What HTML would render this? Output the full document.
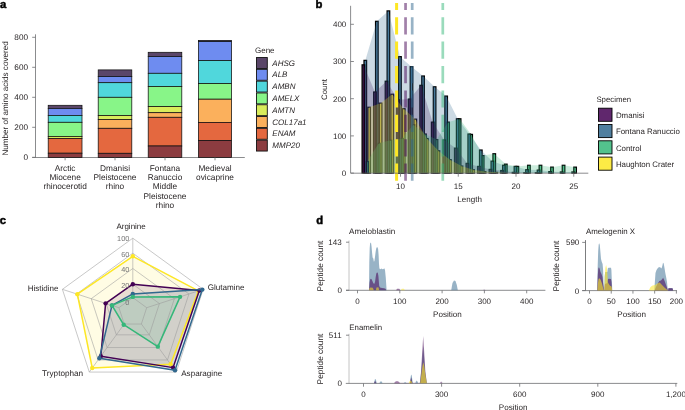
<!DOCTYPE html><html><head><meta charset="utf-8"><style>html,body{margin:0;padding:0;background:#fff;}svg{display:block;will-change:transform} text{font-family:"Liberation Sans", sans-serif;text-rendering:geometricPrecision;}</style></head><body>
<svg width="685" height="410" viewBox="0 0 685 410">
<text x="0.1" y="7.8" font-size="11.3" font-weight="bold" fill="#000" stroke="#000" stroke-width="0.45">a</text>
<text x="315.4" y="7.7" font-size="11.3" font-weight="bold" fill="#000" stroke="#000" stroke-width="0.45">b</text>
<text x="-0.3" y="223.7" font-size="11.3" font-weight="bold" fill="#000" stroke="#000" stroke-width="0.45">c</text>
<text x="316.3" y="224.4" font-size="11.3" font-weight="bold" fill="#000" stroke="#000" stroke-width="0.45">d</text>
<line x1="35.5" y1="34.3" x2="35.5" y2="157.6" stroke="#6d6e71" stroke-width="0.8"/>
<line x1="32.2" y1="157.3" x2="35.5" y2="157.3" stroke="#6d6e71" stroke-width="0.8"/>
<text x="28" y="160.20000000000002" font-size="8.2" fill="#231f20" text-anchor="end">0</text>
<line x1="32.2" y1="127.30000000000001" x2="35.5" y2="127.30000000000001" stroke="#6d6e71" stroke-width="0.8"/>
<text x="28" y="130.20000000000002" font-size="8.2" fill="#231f20" text-anchor="end">200</text>
<line x1="32.2" y1="97.30000000000001" x2="35.5" y2="97.30000000000001" stroke="#6d6e71" stroke-width="0.8"/>
<text x="28" y="100.20000000000002" font-size="8.2" fill="#231f20" text-anchor="end">400</text>
<line x1="32.2" y1="67.30000000000001" x2="35.5" y2="67.30000000000001" stroke="#6d6e71" stroke-width="0.8"/>
<text x="28" y="70.20000000000002" font-size="8.2" fill="#231f20" text-anchor="end">600</text>
<line x1="32.2" y1="37.30000000000001" x2="35.5" y2="37.30000000000001" stroke="#6d6e71" stroke-width="0.8"/>
<text x="28" y="40.20000000000001" font-size="8.2" fill="#231f20" text-anchor="end">800</text>
<line x1="32.2" y1="157.5" x2="244.8" y2="157.5" stroke="#6d6e71" stroke-width="0.8"/>
<text transform="translate(7.5,155.6) rotate(-90)" font-size="8.1" fill="#231f20">Number of amino acids covered</text>
<rect x="48.2" y="105.3" width="33.80" height="3.10" fill="#5a4669" stroke="#111" stroke-width="0.75"/>
<rect x="48.2" y="108.4" width="33.80" height="7.00" fill="#6e8cf0" stroke="#111" stroke-width="0.75"/>
<rect x="48.2" y="115.4" width="33.80" height="6.90" fill="#50d7dc" stroke="#111" stroke-width="0.75"/>
<rect x="48.2" y="122.3" width="33.80" height="14.10" fill="#88f588" stroke="#111" stroke-width="0.75"/>
<rect x="48.2" y="136.4" width="33.80" height="2.00" fill="#d9ec5b" stroke="#111" stroke-width="0.75"/>
<rect x="48.2" y="138.4" width="33.80" height="14.80" fill="#e4683f" stroke="#111" stroke-width="0.75"/>
<rect x="48.2" y="153.2" width="33.80" height="4.20" fill="#8c3c40" stroke="#111" stroke-width="0.75"/>
<rect x="98.2" y="69.9" width="33.60" height="6.70" fill="#5a4669" stroke="#111" stroke-width="0.75"/>
<rect x="98.2" y="76.6" width="33.60" height="6.10" fill="#6e8cf0" stroke="#111" stroke-width="0.75"/>
<rect x="98.2" y="82.7" width="33.60" height="14.60" fill="#50d7dc" stroke="#111" stroke-width="0.75"/>
<rect x="98.2" y="97.3" width="33.60" height="18.20" fill="#88f588" stroke="#111" stroke-width="0.75"/>
<rect x="98.2" y="115.5" width="33.60" height="4.00" fill="#d9ec5b" stroke="#111" stroke-width="0.75"/>
<rect x="98.2" y="119.5" width="33.60" height="8.80" fill="#fbb05c" stroke="#111" stroke-width="0.75"/>
<rect x="98.2" y="128.3" width="33.60" height="25.00" fill="#e4683f" stroke="#111" stroke-width="0.75"/>
<rect x="98.2" y="153.3" width="33.60" height="4.10" fill="#8c3c40" stroke="#111" stroke-width="0.75"/>
<rect x="148.2" y="52.3" width="33.60" height="4.30" fill="#5a4669" stroke="#111" stroke-width="0.75"/>
<rect x="148.2" y="56.6" width="33.60" height="16.70" fill="#6e8cf0" stroke="#111" stroke-width="0.75"/>
<rect x="148.2" y="73.3" width="33.60" height="13.20" fill="#50d7dc" stroke="#111" stroke-width="0.75"/>
<rect x="148.2" y="86.5" width="33.60" height="20.10" fill="#88f588" stroke="#111" stroke-width="0.75"/>
<rect x="148.2" y="106.6" width="33.60" height="6.10" fill="#d9ec5b" stroke="#111" stroke-width="0.75"/>
<rect x="148.2" y="112.7" width="33.60" height="4.60" fill="#fbb05c" stroke="#111" stroke-width="0.75"/>
<rect x="148.2" y="117.3" width="33.60" height="28.70" fill="#e4683f" stroke="#111" stroke-width="0.75"/>
<rect x="148.2" y="146" width="33.60" height="11.40" fill="#8c3c40" stroke="#111" stroke-width="0.75"/>
<rect x="198.4" y="40.4" width="33.20" height="1.20" fill="#5a4669" stroke="#111" stroke-width="0.75"/>
<rect x="198.4" y="41.6" width="33.20" height="19.00" fill="#6e8cf0" stroke="#111" stroke-width="0.75"/>
<rect x="198.4" y="60.6" width="33.20" height="23.00" fill="#50d7dc" stroke="#111" stroke-width="0.75"/>
<rect x="198.4" y="83.6" width="33.20" height="15.60" fill="#88f588" stroke="#111" stroke-width="0.75"/>
<rect x="198.4" y="99.2" width="33.20" height="23.20" fill="#fbb05c" stroke="#111" stroke-width="0.75"/>
<rect x="198.4" y="122.4" width="33.20" height="18.10" fill="#e4683f" stroke="#111" stroke-width="0.75"/>
<rect x="198.4" y="140.5" width="33.20" height="16.90" fill="#8c3c40" stroke="#111" stroke-width="0.75"/>
<line x1="65.1" y1="157.5" x2="65.1" y2="160.3" stroke="#6d6e71" stroke-width="0.8"/>
<line x1="115" y1="157.5" x2="115" y2="160.3" stroke="#6d6e71" stroke-width="0.8"/>
<line x1="165" y1="157.5" x2="165" y2="160.3" stroke="#6d6e71" stroke-width="0.8"/>
<line x1="215" y1="157.5" x2="215" y2="160.3" stroke="#6d6e71" stroke-width="0.8"/>
<text x="65.1" y="170.60" font-size="8.3" fill="#231f20" text-anchor="middle">Arctic</text>
<text x="65.1" y="179.95" font-size="8.3" fill="#231f20" text-anchor="middle">Miocene</text>
<text x="65.1" y="189.30" font-size="8.3" fill="#231f20" text-anchor="middle">rhinocerotid</text>
<text x="115" y="170.60" font-size="8.3" fill="#231f20" text-anchor="middle">Dmanisi</text>
<text x="115" y="179.95" font-size="8.3" fill="#231f20" text-anchor="middle">Pleistocene</text>
<text x="115" y="189.30" font-size="8.3" fill="#231f20" text-anchor="middle">rhino</text>
<text x="165" y="170.60" font-size="8.3" fill="#231f20" text-anchor="middle">Fontana</text>
<text x="165" y="179.95" font-size="8.3" fill="#231f20" text-anchor="middle">Ranuccio</text>
<text x="165" y="189.30" font-size="8.3" fill="#231f20" text-anchor="middle">Middle</text>
<text x="165" y="198.65" font-size="8.3" fill="#231f20" text-anchor="middle">Pleistocene</text>
<text x="165" y="208.00" font-size="8.3" fill="#231f20" text-anchor="middle">rhino</text>
<text x="215" y="170.60" font-size="8.3" fill="#231f20" text-anchor="middle">Medieval</text>
<text x="215" y="179.95" font-size="8.3" fill="#231f20" text-anchor="middle">ovicaprine</text>
<text x="255" y="52.9" font-size="8" fill="#231f20">Gene</text>
<rect x="256.45" y="57.55" width="10.85" height="10.9" fill="#5a4669" stroke="#111" stroke-width="0.9"/>
<text x="272.3" y="65.50" font-size="8" font-style="italic" fill="#231f20">AHSG</text>
<rect x="256.45" y="69.35" width="10.85" height="10.9" fill="#6e8cf0" stroke="#111" stroke-width="0.9"/>
<text x="272.3" y="77.30" font-size="8" font-style="italic" fill="#231f20">ALB</text>
<rect x="256.45" y="81.15" width="10.85" height="10.9" fill="#50d7dc" stroke="#111" stroke-width="0.9"/>
<text x="272.3" y="89.10" font-size="8" font-style="italic" fill="#231f20">AMBN</text>
<rect x="256.45" y="92.95" width="10.85" height="10.9" fill="#88f588" stroke="#111" stroke-width="0.9"/>
<text x="272.3" y="100.90" font-size="8" font-style="italic" fill="#231f20">AMELX</text>
<rect x="256.45" y="104.75" width="10.85" height="10.9" fill="#d9ec5b" stroke="#111" stroke-width="0.9"/>
<text x="272.3" y="112.70" font-size="8" font-style="italic" fill="#231f20">AMTN</text>
<rect x="256.45" y="116.55" width="10.85" height="10.9" fill="#fbb05c" stroke="#111" stroke-width="0.9"/>
<text x="272.3" y="124.50" font-size="8" font-style="italic" fill="#231f20">COL17a1</text>
<rect x="256.45" y="128.35" width="10.85" height="10.9" fill="#e4683f" stroke="#111" stroke-width="0.9"/>
<text x="272.3" y="136.30" font-size="8" font-style="italic" fill="#231f20">ENAM</text>
<rect x="256.45" y="140.15" width="10.85" height="10.9" fill="#8c3c40" stroke="#111" stroke-width="0.9"/>
<text x="272.3" y="148.10" font-size="8" font-style="italic" fill="#231f20">MMP20</text>
<rect x="367.80" y="107.26" width="2.6" height="65.84" fill="#FDE725" fill-opacity="0.85" stroke="#000" stroke-width="1.25"/>
<rect x="379.35" y="103.16" width="2.6" height="69.94" fill="#FDE725" fill-opacity="0.85" stroke="#000" stroke-width="1.25"/>
<rect x="390.90" y="94.24" width="2.6" height="78.86" fill="#FDE725" fill-opacity="0.85" stroke="#000" stroke-width="1.25"/>
<rect x="402.45" y="108.74" width="2.6" height="64.36" fill="#FDE725" fill-opacity="0.85" stroke="#000" stroke-width="1.25"/>
<rect x="414.00" y="119.16" width="2.6" height="53.94" fill="#FDE725" fill-opacity="0.85" stroke="#000" stroke-width="1.25"/>
<rect x="425.55" y="138.50" width="2.6" height="34.60" fill="#FDE725" fill-opacity="0.85" stroke="#000" stroke-width="1.25"/>
<rect x="437.10" y="150.78" width="2.6" height="22.32" fill="#FDE725" fill-opacity="0.85" stroke="#000" stroke-width="1.25"/>
<rect x="448.65" y="159.71" width="2.6" height="13.39" fill="#FDE725" fill-opacity="0.85" stroke="#000" stroke-width="1.25"/>
<rect x="460.20" y="166.03" width="2.6" height="7.07" fill="#FDE725" fill-opacity="0.85" stroke="#000" stroke-width="1.25"/>
<rect x="471.75" y="169.75" width="2.6" height="3.35" fill="#FDE725" fill-opacity="0.85" stroke="#000" stroke-width="1.25"/>
<rect x="483.30" y="171.61" width="2.6" height="1.49" fill="#FDE725" fill-opacity="0.85" stroke="#000" stroke-width="1.25"/>
<rect x="494.85" y="172.36" width="2.6" height="0.74" fill="#FDE725" fill-opacity="0.85" stroke="#000" stroke-width="1.25"/>
<rect x="506.40" y="173.10" width="2.6" height="0.00" fill="#FDE725" fill-opacity="0.85" stroke="#000" stroke-width="1.25"/>
<rect x="517.95" y="173.10" width="2.6" height="0.00" fill="#FDE725" fill-opacity="0.85" stroke="#000" stroke-width="1.25"/>
<rect x="529.50" y="173.10" width="2.6" height="0.00" fill="#FDE725" fill-opacity="0.85" stroke="#000" stroke-width="1.25"/>
<rect x="541.05" y="173.10" width="2.6" height="0.00" fill="#FDE725" fill-opacity="0.85" stroke="#000" stroke-width="1.25"/>
<rect x="552.60" y="173.10" width="2.6" height="0.00" fill="#FDE725" fill-opacity="0.85" stroke="#000" stroke-width="1.25"/>
<rect x="564.15" y="173.10" width="2.6" height="0.00" fill="#FDE725" fill-opacity="0.85" stroke="#000" stroke-width="1.25"/>
<rect x="575.70" y="173.10" width="2.6" height="0.00" fill="#FDE725" fill-opacity="0.85" stroke="#000" stroke-width="1.25"/>
<rect x="365.90" y="161.57" width="2.6" height="11.53" fill="#35B779" fill-opacity="0.85" stroke="#000" stroke-width="1.25"/>
<rect x="377.45" y="143.34" width="2.6" height="29.76" fill="#35B779" fill-opacity="0.85" stroke="#000" stroke-width="1.25"/>
<rect x="389.00" y="140.36" width="2.6" height="32.74" fill="#35B779" fill-opacity="0.85" stroke="#000" stroke-width="1.25"/>
<rect x="400.55" y="138.50" width="2.6" height="34.60" fill="#35B779" fill-opacity="0.85" stroke="#000" stroke-width="1.25"/>
<rect x="412.10" y="124.74" width="2.6" height="48.36" fill="#35B779" fill-opacity="0.85" stroke="#000" stroke-width="1.25"/>
<rect x="423.65" y="134.04" width="2.6" height="39.06" fill="#35B779" fill-opacity="0.85" stroke="#000" stroke-width="1.25"/>
<rect x="435.20" y="139.62" width="2.6" height="33.48" fill="#35B779" fill-opacity="0.85" stroke="#000" stroke-width="1.25"/>
<rect x="446.75" y="122.14" width="2.6" height="50.96" fill="#35B779" fill-opacity="0.85" stroke="#000" stroke-width="1.25"/>
<rect x="458.30" y="118.79" width="2.6" height="54.31" fill="#35B779" fill-opacity="0.85" stroke="#000" stroke-width="1.25"/>
<rect x="469.85" y="134.41" width="2.6" height="38.69" fill="#35B779" fill-opacity="0.85" stroke="#000" stroke-width="1.25"/>
<rect x="481.40" y="155.62" width="2.6" height="17.48" fill="#35B779" fill-opacity="0.85" stroke="#000" stroke-width="1.25"/>
<rect x="492.95" y="153.76" width="2.6" height="19.34" fill="#35B779" fill-opacity="0.85" stroke="#000" stroke-width="1.25"/>
<rect x="504.50" y="164.17" width="2.6" height="8.93" fill="#35B779" fill-opacity="0.85" stroke="#000" stroke-width="1.25"/>
<rect x="516.05" y="166.40" width="2.6" height="6.70" fill="#35B779" fill-opacity="0.85" stroke="#000" stroke-width="1.25"/>
<rect x="527.60" y="165.29" width="2.6" height="7.81" fill="#35B779" fill-opacity="0.85" stroke="#000" stroke-width="1.25"/>
<rect x="539.15" y="165.29" width="2.6" height="7.81" fill="#35B779" fill-opacity="0.85" stroke="#000" stroke-width="1.25"/>
<rect x="550.70" y="167.15" width="2.6" height="5.95" fill="#35B779" fill-opacity="0.85" stroke="#000" stroke-width="1.25"/>
<rect x="562.25" y="165.29" width="2.6" height="7.81" fill="#35B779" fill-opacity="0.85" stroke="#000" stroke-width="1.25"/>
<rect x="573.80" y="167.15" width="2.6" height="5.95" fill="#35B779" fill-opacity="0.85" stroke="#000" stroke-width="1.25"/>
<rect x="364.00" y="60.38" width="2.6" height="112.72" fill="#31688E" fill-opacity="0.85" stroke="#000" stroke-width="1.25"/>
<rect x="375.55" y="21.32" width="2.6" height="151.78" fill="#31688E" fill-opacity="0.85" stroke="#000" stroke-width="1.25"/>
<rect x="387.10" y="10.91" width="2.6" height="162.19" fill="#31688E" fill-opacity="0.85" stroke="#000" stroke-width="1.25"/>
<rect x="398.65" y="56.66" width="2.6" height="116.44" fill="#31688E" fill-opacity="0.85" stroke="#000" stroke-width="1.25"/>
<rect x="410.20" y="66.71" width="2.6" height="106.39" fill="#31688E" fill-opacity="0.85" stroke="#000" stroke-width="1.25"/>
<rect x="421.75" y="76.01" width="2.6" height="97.09" fill="#31688E" fill-opacity="0.85" stroke="#000" stroke-width="1.25"/>
<rect x="433.30" y="86.80" width="2.6" height="86.30" fill="#31688E" fill-opacity="0.85" stroke="#000" stroke-width="1.25"/>
<rect x="444.85" y="96.10" width="2.6" height="77.00" fill="#31688E" fill-opacity="0.85" stroke="#000" stroke-width="1.25"/>
<rect x="456.40" y="118.79" width="2.6" height="54.31" fill="#31688E" fill-opacity="0.85" stroke="#000" stroke-width="1.25"/>
<rect x="467.95" y="134.04" width="2.6" height="39.06" fill="#31688E" fill-opacity="0.85" stroke="#000" stroke-width="1.25"/>
<rect x="479.50" y="150.04" width="2.6" height="23.06" fill="#31688E" fill-opacity="0.85" stroke="#000" stroke-width="1.25"/>
<rect x="491.05" y="161.20" width="2.6" height="11.90" fill="#31688E" fill-opacity="0.85" stroke="#000" stroke-width="1.25"/>
<rect x="502.60" y="165.29" width="2.6" height="7.81" fill="#31688E" fill-opacity="0.85" stroke="#000" stroke-width="1.25"/>
<rect x="514.15" y="166.40" width="2.6" height="6.70" fill="#31688E" fill-opacity="0.85" stroke="#000" stroke-width="1.25"/>
<rect x="525.70" y="169.75" width="2.6" height="3.35" fill="#31688E" fill-opacity="0.85" stroke="#000" stroke-width="1.25"/>
<rect x="537.25" y="170.12" width="2.6" height="2.98" fill="#31688E" fill-opacity="0.85" stroke="#000" stroke-width="1.25"/>
<rect x="548.80" y="171.61" width="2.6" height="1.49" fill="#31688E" fill-opacity="0.85" stroke="#000" stroke-width="1.25"/>
<rect x="560.35" y="171.98" width="2.6" height="1.12" fill="#31688E" fill-opacity="0.85" stroke="#000" stroke-width="1.25"/>
<rect x="571.90" y="171.98" width="2.6" height="1.12" fill="#31688E" fill-opacity="0.85" stroke="#000" stroke-width="1.25"/>
<rect x="362.10" y="64.85" width="2.6" height="108.25" fill="#2a0334" fill-opacity="0.85" stroke="#000" stroke-width="1.25"/>
<rect x="373.65" y="92.00" width="2.6" height="81.10" fill="#2a0334" fill-opacity="0.85" stroke="#000" stroke-width="1.25"/>
<rect x="385.20" y="81.22" width="2.6" height="91.88" fill="#2a0334" fill-opacity="0.85" stroke="#000" stroke-width="1.25"/>
<rect x="396.75" y="99.82" width="2.6" height="73.28" fill="#2a0334" fill-opacity="0.85" stroke="#000" stroke-width="1.25"/>
<rect x="408.30" y="99.07" width="2.6" height="74.03" fill="#2a0334" fill-opacity="0.85" stroke="#000" stroke-width="1.25"/>
<rect x="419.85" y="85.31" width="2.6" height="87.79" fill="#2a0334" fill-opacity="0.85" stroke="#000" stroke-width="1.25"/>
<rect x="431.40" y="122.14" width="2.6" height="50.96" fill="#2a0334" fill-opacity="0.85" stroke="#000" stroke-width="1.25"/>
<rect x="442.95" y="139.99" width="2.6" height="33.11" fill="#2a0334" fill-opacity="0.85" stroke="#000" stroke-width="1.25"/>
<rect x="454.50" y="148.18" width="2.6" height="24.92" fill="#2a0334" fill-opacity="0.85" stroke="#000" stroke-width="1.25"/>
<rect x="466.05" y="163.43" width="2.6" height="9.67" fill="#2a0334" fill-opacity="0.85" stroke="#000" stroke-width="1.25"/>
<rect x="477.60" y="166.40" width="2.6" height="6.70" fill="#2a0334" fill-opacity="0.85" stroke="#000" stroke-width="1.25"/>
<rect x="489.15" y="169.38" width="2.6" height="3.72" fill="#2a0334" fill-opacity="0.85" stroke="#000" stroke-width="1.25"/>
<rect x="500.70" y="170.50" width="2.6" height="2.60" fill="#2a0334" fill-opacity="0.85" stroke="#000" stroke-width="1.25"/>
<rect x="512.25" y="172.36" width="2.6" height="0.74" fill="#2a0334" fill-opacity="0.85" stroke="#000" stroke-width="1.25"/>
<rect x="523.80" y="172.73" width="2.6" height="0.37" fill="#2a0334" fill-opacity="0.85" stroke="#000" stroke-width="1.25"/>
<rect x="535.35" y="172.73" width="2.6" height="0.37" fill="#2a0334" fill-opacity="0.85" stroke="#000" stroke-width="1.25"/>
<rect x="546.90" y="173.10" width="2.6" height="0.00" fill="#2a0334" fill-opacity="0.85" stroke="#000" stroke-width="1.25"/>
<rect x="558.45" y="173.10" width="2.6" height="0.00" fill="#2a0334" fill-opacity="0.85" stroke="#000" stroke-width="1.25"/>
<rect x="570.00" y="173.10" width="2.6" height="0.00" fill="#2a0334" fill-opacity="0.85" stroke="#000" stroke-width="1.25"/>
<polygon points="363.40,173.1 363.40,64.85 374.95,92.00 386.50,81.22 398.05,99.82 409.60,99.07 421.15,85.31 432.70,122.14 444.25,139.99 455.80,148.18 467.35,163.43 478.90,166.40 490.45,169.38 502.00,170.50 513.55,172.36 525.10,172.73 536.65,172.73 548.20,173.10 559.75,173.10 571.30,173.10 571.30,173.1" fill="#440154" fill-opacity="0.25" stroke="none"/>
<polygon points="365.30,173.1 365.30,60.38 376.85,21.32 388.40,10.91 399.95,56.66 411.50,66.71 423.05,76.01 434.60,86.80 446.15,96.10 457.70,118.79 469.25,134.04 480.80,150.04 492.35,161.20 503.90,165.29 515.45,166.40 527.00,169.75 538.55,170.12 550.10,171.61 561.65,171.98 573.20,171.98 573.20,173.1" fill="#31688E" fill-opacity="0.25" stroke="none"/>
<polygon points="367.20,173.1 367.20,161.57 378.75,143.34 390.30,140.36 401.85,138.50 413.40,124.74 424.95,134.04 436.50,139.62 448.05,122.14 459.60,118.79 471.15,134.41 482.70,155.62 494.25,153.76 505.80,164.17 517.35,166.40 528.90,165.29 540.45,165.29 552.00,167.15 563.55,165.29 575.10,167.15 575.10,173.1" fill="#35B779" fill-opacity="0.25" stroke="none"/>
<polygon points="369.10,173.1 369.10,107.26 380.65,103.16 392.20,94.24 403.75,108.74 415.30,119.16 426.85,138.50 438.40,150.78 449.95,159.71 461.50,166.03 473.05,169.75 484.60,171.61 496.15,172.36 507.70,173.10 519.25,173.10 530.80,173.10 542.35,173.10 553.90,173.10 565.45,173.10 577.00,173.10 577.00,173.1" fill="#FDE725" fill-opacity="0.25" stroke="none"/>
<line x1="396.6" y1="180.8" x2="396.6" y2="2.9" stroke="#FDE725" stroke-opacity="1" stroke-width="3.0" stroke-dasharray="17.2 7.2"/>
<line x1="405.55" y1="180.8" x2="405.55" y2="2.9" stroke="#440154" stroke-opacity="0.5" stroke-width="2.7" stroke-dasharray="17.2 7.2"/>
<line x1="412.2" y1="180.8" x2="412.2" y2="2.9" stroke="#31688E" stroke-opacity="0.5" stroke-width="2.7" stroke-dasharray="17.2 7.2"/>
<line x1="442.8" y1="180.8" x2="442.8" y2="2.9" stroke="#35B779" stroke-opacity="0.5" stroke-width="2.7" stroke-dasharray="17.2 7.2"/>
<line x1="350.6" y1="5.8" x2="350.6" y2="173.1" stroke="#6d6e71" stroke-width="0.8"/>
<line x1="350.6" y1="173.10" x2="353.9" y2="173.10" stroke="#6d6e71" stroke-width="0.8"/>
<text x="346.3" y="176.00" font-size="8.0" fill="#231f20" text-anchor="end">0</text>
<line x1="350.6" y1="135.90" x2="353.9" y2="135.90" stroke="#6d6e71" stroke-width="0.8"/>
<text x="346.3" y="138.80" font-size="8.0" fill="#231f20" text-anchor="end">100</text>
<line x1="350.6" y1="98.70" x2="353.9" y2="98.70" stroke="#6d6e71" stroke-width="0.8"/>
<text x="346.3" y="101.60" font-size="8.0" fill="#231f20" text-anchor="end">200</text>
<line x1="350.6" y1="61.50" x2="353.9" y2="61.50" stroke="#6d6e71" stroke-width="0.8"/>
<text x="346.3" y="64.40" font-size="8.0" fill="#231f20" text-anchor="end">300</text>
<line x1="350.6" y1="24.30" x2="353.9" y2="24.30" stroke="#6d6e71" stroke-width="0.8"/>
<text x="346.3" y="27.20" font-size="8.0" fill="#231f20" text-anchor="end">400</text>
<line x1="350.6" y1="173.2" x2="588.3" y2="173.2" stroke="#6d6e71" stroke-width="0.8"/>
<line x1="400.50" y1="173.2" x2="400.50" y2="176.7" stroke="#6d6e71" stroke-width="0.8"/>
<text x="400.50" y="188.9" font-size="8.0" fill="#231f20" text-anchor="middle">10</text>
<line x1="458.25" y1="173.2" x2="458.25" y2="176.7" stroke="#6d6e71" stroke-width="0.8"/>
<text x="458.25" y="188.9" font-size="8.0" fill="#231f20" text-anchor="middle">15</text>
<line x1="516.00" y1="173.2" x2="516.00" y2="176.7" stroke="#6d6e71" stroke-width="0.8"/>
<text x="516.00" y="188.9" font-size="8.0" fill="#231f20" text-anchor="middle">20</text>
<line x1="573.75" y1="173.2" x2="573.75" y2="176.7" stroke="#6d6e71" stroke-width="0.8"/>
<text x="573.75" y="188.9" font-size="8.0" fill="#231f20" text-anchor="middle">25</text>
<text x="469.6" y="201.7" font-size="8.0" fill="#231f20" text-anchor="middle">Length</text>
<text transform="translate(326.6,89.5) rotate(-90)" font-size="7.9" fill="#231f20" text-anchor="middle">Count</text>
<text x="596.4" y="102.1" font-size="7.8" fill="#231f20">Specimen</text>
<rect x="598.5" y="108.20" width="13.5" height="13.1" fill="#440154" fill-opacity="0.85" stroke="#000" stroke-width="0.9"/>
<text x="615.9" y="118.10" font-size="7.9" fill="#231f20">Dmanisi</text>
<rect x="598.5" y="124.50" width="13.5" height="13.1" fill="#31688E" fill-opacity="0.85" stroke="#000" stroke-width="0.9"/>
<text x="615.9" y="134.40" font-size="7.9" fill="#231f20">Fontana Ranuccio</text>
<rect x="598.5" y="140.80" width="13.5" height="13.1" fill="#35B779" fill-opacity="0.85" stroke="#000" stroke-width="0.9"/>
<text x="615.9" y="150.70" font-size="7.9" fill="#231f20">Control</text>
<rect x="598.5" y="157.10" width="13.5" height="13.1" fill="#FDE725" fill-opacity="0.85" stroke="#000" stroke-width="0.9"/>
<text x="615.9" y="167.00" font-size="7.9" fill="#231f20">Haughton Crater</text>
<polygon points="132.80,256.30 198.42,290.88 170.65,364.30 92.24,368.02 77.35,294.18" fill="#FDE725" fill-opacity="0.12" stroke="none"/>
<polygon points="132.80,284.20 199.37,290.57 173.06,367.62 100.82,356.21 105.60,303.36" fill="#440154" fill-opacity="0.12" stroke="none"/>
<polygon points="132.80,293.90 202.32,289.61 175.00,370.29 99.36,358.23 111.97,305.43" fill="#31688E" fill-opacity="0.12" stroke="none"/>
<polygon points="132.80,296.90 180.07,296.84 157.84,346.66 123.69,324.74 111.97,305.43" fill="#35B779" fill-opacity="0.12" stroke="none"/>
<polygon points="132.80,297.60 146.69,307.69 141.38,324.01 124.22,324.01 118.91,307.69" fill="none" stroke="#9a9a9a" stroke-width="0.55"/>
<polygon points="132.80,284.20 159.43,303.55 149.26,334.85 116.34,334.85 106.17,303.55" fill="none" stroke="#9a9a9a" stroke-width="0.55"/>
<polygon points="132.80,268.50 174.36,298.70 158.49,347.55 107.11,347.55 91.24,298.70" fill="none" stroke="#9a9a9a" stroke-width="0.55"/>
<polygon points="132.80,253.20 188.91,293.97 167.48,359.93 98.12,359.93 76.69,293.97" fill="none" stroke="#9a9a9a" stroke-width="0.55"/>
<polygon points="132.80,238.20 203.18,289.33 176.30,372.07 89.30,372.07 62.42,289.33" fill="none" stroke="#9a9a9a" stroke-width="0.55"/>
<line x1="132.80" y1="297.60" x2="132.80" y2="238.20" stroke="#9a9a9a" stroke-width="0.55"/>
<line x1="146.69" y1="307.69" x2="203.18" y2="289.33" stroke="#9a9a9a" stroke-width="0.55"/>
<line x1="141.38" y1="324.01" x2="176.30" y2="372.07" stroke="#9a9a9a" stroke-width="0.55"/>
<line x1="124.22" y1="324.01" x2="89.30" y2="372.07" stroke="#9a9a9a" stroke-width="0.55"/>
<line x1="118.91" y1="307.69" x2="62.42" y2="289.33" stroke="#9a9a9a" stroke-width="0.55"/>
<polygon points="132.80,256.30 198.42,290.88 170.65,364.30 92.24,368.02 77.35,294.18" fill="none" stroke="#FDE725" stroke-width="1.5" stroke-linejoin="round"/>
<circle cx="132.80" cy="256.30" r="2.2" fill="#FDE725"/>
<circle cx="198.42" cy="290.88" r="2.2" fill="#FDE725"/>
<circle cx="170.65" cy="364.30" r="2.2" fill="#FDE725"/>
<circle cx="92.24" cy="368.02" r="2.2" fill="#FDE725"/>
<circle cx="77.35" cy="294.18" r="2.2" fill="#FDE725"/>
<polygon points="132.80,284.20 199.37,290.57 173.06,367.62 100.82,356.21 105.60,303.36" fill="none" stroke="#440154" stroke-width="1.5" stroke-linejoin="round"/>
<circle cx="132.80" cy="284.20" r="2.2" fill="#440154"/>
<circle cx="199.37" cy="290.57" r="2.2" fill="#440154"/>
<circle cx="173.06" cy="367.62" r="2.2" fill="#440154"/>
<circle cx="100.82" cy="356.21" r="2.2" fill="#440154"/>
<circle cx="105.60" cy="303.36" r="2.2" fill="#440154"/>
<polygon points="132.80,293.90 202.32,289.61 175.00,370.29 99.36,358.23 111.97,305.43" fill="none" stroke="#31688E" stroke-width="1.5" stroke-linejoin="round"/>
<circle cx="132.80" cy="293.90" r="2.2" fill="#31688E"/>
<circle cx="202.32" cy="289.61" r="2.2" fill="#31688E"/>
<circle cx="175.00" cy="370.29" r="2.2" fill="#31688E"/>
<circle cx="99.36" cy="358.23" r="2.2" fill="#31688E"/>
<circle cx="111.97" cy="305.43" r="2.2" fill="#31688E"/>
<polygon points="132.80,296.90 180.07,296.84 157.84,346.66 123.69,324.74 111.97,305.43" fill="none" stroke="#35B779" stroke-width="1.5" stroke-linejoin="round"/>
<circle cx="132.80" cy="296.90" r="2.2" fill="#35B779"/>
<circle cx="180.07" cy="296.84" r="2.2" fill="#35B779"/>
<circle cx="157.84" cy="346.66" r="2.2" fill="#35B779"/>
<circle cx="123.69" cy="324.74" r="2.2" fill="#35B779"/>
<circle cx="111.97" cy="305.43" r="2.2" fill="#35B779"/>
<text x="129.3" y="241.10" font-size="7.3" fill="#777777" text-anchor="end">100</text>
<text x="129.3" y="256.60" font-size="7.3" fill="#777777" text-anchor="end">60</text>
<text x="129.3" y="272.40" font-size="7.3" fill="#777777" text-anchor="end">40</text>
<text x="129.3" y="287.50" font-size="7.3" fill="#777777" text-anchor="end">20</text>
<text x="129.3" y="305.10" font-size="7.3" fill="#777777" text-anchor="end">0</text>
<text x="131.1" y="228.6" font-size="8.0" fill="#231f20" text-anchor="middle">Arginine</text>
<text x="207.7" y="289.7" font-size="8.1" fill="#231f20">Glutamine</text>
<text x="58.4" y="291.3" font-size="8.0" fill="#231f20" text-anchor="end">Histidine</text>
<text x="83.2" y="375.8" font-size="8.2" fill="#231f20" text-anchor="end">Tryptophan</text>
<text x="181.2" y="375.8" font-size="8.1" fill="#231f20">Asparagine</text>
<text x="349" y="234.3" font-size="8.1" fill="#231f20">Ameloblastin</text>
<line x1="349" y1="240.5" x2="349" y2="290.4" stroke="#c4c4c4" stroke-width="1"/>
<line x1="346" y1="242.2" x2="349" y2="242.2" stroke="#6d6e71" stroke-width="0.8"/>
<line x1="346" y1="290.3" x2="349" y2="290.3" stroke="#6d6e71" stroke-width="0.8"/>
<text x="341.7" y="245.0" font-size="8.0" fill="#231f20" text-anchor="end">143</text>
<text x="341.9" y="293.3" font-size="8.0" fill="#231f20" text-anchor="end">0</text>
<text transform="translate(323.1,266) rotate(-90)" font-size="8.3" fill="#231f20" text-anchor="middle">Peptide count</text>
<line x1="346" y1="290.3" x2="545.4" y2="290.3" stroke="#6d6e71" stroke-width="0.8"/>
<line x1="357.50" y1="290.3" x2="357.50" y2="293.3" stroke="#6d6e71" stroke-width="0.8"/>
<text x="357.50" y="303.5" font-size="8.0" fill="#231f20" text-anchor="middle">0</text>
<line x1="399.80" y1="290.3" x2="399.80" y2="293.3" stroke="#6d6e71" stroke-width="0.8"/>
<text x="399.80" y="303.5" font-size="8.0" fill="#231f20" text-anchor="middle">100</text>
<line x1="442.10" y1="290.3" x2="442.10" y2="293.3" stroke="#6d6e71" stroke-width="0.8"/>
<text x="442.10" y="303.5" font-size="8.0" fill="#231f20" text-anchor="middle">200</text>
<line x1="484.40" y1="290.3" x2="484.40" y2="293.3" stroke="#6d6e71" stroke-width="0.8"/>
<text x="484.40" y="303.5" font-size="8.0" fill="#231f20" text-anchor="middle">300</text>
<line x1="526.70" y1="290.3" x2="526.70" y2="293.3" stroke="#6d6e71" stroke-width="0.8"/>
<text x="526.70" y="303.5" font-size="8.0" fill="#231f20" text-anchor="middle">400</text>
<text x="447.4" y="316.7" font-size="8.1" fill="#231f20" text-anchor="middle">Position</text>
<polygon points="369.00,290.20 369.30,262.00 369.70,248.00 370.10,243.50 370.60,242.60 371.10,243.30 371.60,247.00 372.10,253.00 372.60,257.50 373.30,258.50 373.90,261.80 374.40,261.00 375.00,257.00 375.60,252.00 376.20,248.50 376.80,247.30 377.50,247.20 378.10,249.00 378.60,255.00 379.00,264.00 379.40,268.60 380.50,269.30 381.50,268.40 382.50,269.30 383.50,269.00 384.30,268.30 385.00,270.00 385.80,278.00 386.60,290.20" fill="#31688E" fill-opacity="0.5" stroke="none"/>
<polygon points="451.20,290.20 452.50,283.00 454.00,280.50 455.50,281.00 456.80,285.00 457.80,290.20" fill="#31688E" fill-opacity="0.5" stroke="none"/>
<polygon points="369.00,290.20 369.50,283.00 370.10,279.50 370.80,278.80 371.60,279.20 372.40,281.00 373.20,283.00 374.20,284.00 375.00,282.00 375.70,277.00 376.30,273.50 377.00,272.60 377.80,272.80 378.40,276.00 378.80,281.00 379.20,286.00 380.00,287.50 382.00,288.00 384.00,288.30 385.50,288.80 386.20,290.20" fill="#440154" fill-opacity="0.55" stroke="none"/>
<polygon points="396.10,290.20 397.00,288.80 399.30,288.80 400.30,290.20" fill="#440154" fill-opacity="0.5" stroke="none"/>
<polygon points="369.00,290.20 369.60,288.00 370.50,287.60 372.80,287.70 373.90,290.20" fill="#FDE725" fill-opacity="0.55" stroke="none"/>
<polygon points="375.80,290.20 376.50,287.40 378.40,287.20 379.20,290.20" fill="#FDE725" fill-opacity="0.55" stroke="none"/>
<polygon points="400.80,290.20 401.80,288.80 403.90,288.80 404.90,290.20" fill="#FDE725" fill-opacity="0.5" stroke="none"/>
<polygon points="483.00,290.20 484.00,289.60 486.00,290.20" fill="#440154" fill-opacity="0.4" stroke="none"/>
<text x="586" y="234.3" font-size="7.9" fill="#231f20">Amelogenin X</text>
<line x1="585.5" y1="240.1" x2="585.5" y2="290.6" stroke="#6d6e71" stroke-width="0.9"/>
<line x1="582.2" y1="242.4" x2="585.5" y2="242.4" stroke="#6d6e71" stroke-width="0.8"/>
<line x1="582.2" y1="290.6" x2="585.5" y2="290.6" stroke="#6d6e71" stroke-width="0.8"/>
<text x="579.3" y="244.8" font-size="8.0" fill="#231f20" text-anchor="end">590</text>
<text x="579.3" y="293.6" font-size="8.0" fill="#231f20" text-anchor="end">0</text>
<text transform="translate(559.0,266) rotate(-90)" font-size="8.3" fill="#231f20" text-anchor="middle">Peptide count</text>
<line x1="582.2" y1="290.6" x2="677" y2="290.6" stroke="#6d6e71" stroke-width="0.8"/>
<line x1="589.50" y1="290.6" x2="589.50" y2="293.6" stroke="#6d6e71" stroke-width="0.8"/>
<text x="589.50" y="303.6" font-size="8.0" fill="#231f20" text-anchor="middle">0</text>
<line x1="611.22" y1="290.6" x2="611.22" y2="293.6" stroke="#6d6e71" stroke-width="0.8"/>
<text x="611.22" y="303.6" font-size="8.0" fill="#231f20" text-anchor="middle">50</text>
<line x1="632.94" y1="290.6" x2="632.94" y2="293.6" stroke="#6d6e71" stroke-width="0.8"/>
<text x="632.94" y="303.6" font-size="8.0" fill="#231f20" text-anchor="middle">100</text>
<line x1="654.66" y1="290.6" x2="654.66" y2="293.6" stroke="#6d6e71" stroke-width="0.8"/>
<text x="654.66" y="303.6" font-size="8.0" fill="#231f20" text-anchor="middle">150</text>
<line x1="676.38" y1="290.6" x2="676.38" y2="293.6" stroke="#6d6e71" stroke-width="0.8"/>
<text x="676.38" y="303.6" font-size="8.0" fill="#231f20" text-anchor="middle">200</text>
<text x="631.7" y="316.9" font-size="8.1" fill="#231f20" text-anchor="middle">Position</text>
<polygon points="597.20,290.50 597.70,266.00 598.20,251.00 598.70,244.50 599.20,243.20 599.80,245.00 600.40,252.00 601.00,259.00 601.80,262.00 602.60,264.00 603.10,270.00 603.50,282.00 604.00,290.50" fill="#31688E" fill-opacity="0.5" stroke="none"/>
<polygon points="604.30,290.50 604.70,276.00 605.20,272.00 607.30,272.00 607.80,268.50 608.50,267.80 611.00,267.80 611.40,270.00 611.80,280.00 612.30,290.50" fill="#31688E" fill-opacity="0.5" stroke="none"/>
<polygon points="654.30,290.50 655.00,280.00 655.50,273.00 656.50,270.00 657.50,268.50 659.00,267.00 660.50,267.50 661.50,268.50 662.30,266.00 663.00,262.80 663.70,263.50 664.50,268.00 665.30,273.00 666.30,278.00 667.00,282.00 667.80,290.50" fill="#31688E" fill-opacity="0.5" stroke="none"/>
<polygon points="597.20,290.50 597.80,275.00 598.30,268.50 598.90,267.30 599.60,268.50 600.50,272.00 601.50,274.00 602.50,277.00 603.20,284.00 603.80,288.00 604.30,290.50" fill="#440154" fill-opacity="0.55" stroke="none"/>
<polygon points="604.40,290.50 605.00,284.00 607.30,283.00 607.80,279.50 608.50,278.80 611.00,279.00 611.50,282.00 612.00,290.50" fill="#440154" fill-opacity="0.55" stroke="none"/>
<polygon points="654.50,290.50 656.00,287.00 657.50,284.00 659.30,281.00 661.00,280.50 662.30,279.00 663.10,277.80 664.00,279.50 665.00,282.00 666.00,285.00 667.00,287.50 668.00,290.50" fill="#440154" fill-opacity="0.55" stroke="none"/>
<polygon points="668.00,290.50 668.50,288.00 672.50,288.00 673.20,290.50" fill="#31688E" fill-opacity="0.5" stroke="none"/>
<polygon points="668.00,290.50 668.50,288.30 672.50,288.30 673.20,290.50" fill="#440154" fill-opacity="0.6" stroke="none"/>
<polygon points="597.40,290.50 598.00,283.00 598.60,279.00 599.30,278.20 600.50,279.50 601.80,283.00 603.00,287.50 604.00,290.50" fill="#FDE725" fill-opacity="0.6" stroke="none"/>
<polygon points="604.30,290.50 604.80,276.00 605.40,268.00 606.10,265.10 606.80,268.00 607.40,274.00 607.80,282.00 608.50,283.50 610.00,285.80 611.50,286.50 612.30,290.50" fill="#FDE725" fill-opacity="0.6" stroke="none"/>
<polygon points="648.80,290.50 650.50,287.00 652.60,285.40 655.00,285.00 657.50,283.50 659.70,282.60 662.00,285.00 665.00,288.00 668.00,290.50" fill="#FDE725" fill-opacity="0.55" stroke="none"/>
<text x="349.3" y="330.2" font-size="7.85" fill="#231f20">Enamelin</text>
<line x1="349" y1="333.8" x2="349" y2="383.4" stroke="#c4c4c4" stroke-width="1"/>
<line x1="346" y1="335.2" x2="349" y2="335.2" stroke="#6d6e71" stroke-width="0.8"/>
<text x="341.6" y="338.2" font-size="8.0" fill="#231f20" text-anchor="end">511</text>
<text x="341.9" y="386.4" font-size="8.0" fill="#231f20" text-anchor="end">0</text>
<text transform="translate(323.1,359) rotate(-90)" font-size="8.3" fill="#231f20" text-anchor="middle">Peptide count</text>
<line x1="345.8" y1="383.4" x2="677.3" y2="383.4" stroke="#6d6e71" stroke-width="0.8"/>
<line x1="363.50" y1="383.4" x2="363.50" y2="386.7" stroke="#6d6e71" stroke-width="0.8"/>
<text x="363.50" y="397.2" font-size="8.0" fill="#231f20" text-anchor="middle">0</text>
<line x1="441.60" y1="383.4" x2="441.60" y2="386.7" stroke="#6d6e71" stroke-width="0.8"/>
<text x="441.60" y="397.2" font-size="8.0" fill="#231f20" text-anchor="middle">300</text>
<line x1="519.70" y1="383.4" x2="519.70" y2="386.7" stroke="#6d6e71" stroke-width="0.8"/>
<text x="519.70" y="397.2" font-size="8.0" fill="#231f20" text-anchor="middle">600</text>
<line x1="597.80" y1="383.4" x2="597.80" y2="386.7" stroke="#6d6e71" stroke-width="0.8"/>
<text x="597.80" y="397.2" font-size="8.0" fill="#231f20" text-anchor="middle">900</text>
<line x1="675.90" y1="383.4" x2="675.90" y2="386.7" stroke="#6d6e71" stroke-width="0.8"/>
<text x="675.90" y="397.2" font-size="8.0" fill="#231f20" text-anchor="middle">1,200</text>
<text x="513.2" y="409.7" font-size="8.1" fill="#231f20" text-anchor="middle">Position</text>
<polygon points="419.80,383.30 421.20,372.00 422.40,356.00 423.20,346.00 424.00,356.00 425.20,372.00 426.80,383.30" fill="#31688E" fill-opacity="0.5" stroke="none"/>
<polygon points="419.90,383.30 421.00,372.00 422.20,352.00 423.20,336.10 424.20,352.00 425.40,372.00 426.90,383.30" fill="#440154" fill-opacity="0.5" stroke="none"/>
<polygon points="420.20,383.30 421.30,375.00 422.50,366.00 423.30,362.30 424.20,366.00 425.40,375.00 426.80,383.30" fill="#FDE725" fill-opacity="0.6" stroke="none"/>
<polygon points="409.90,383.30 410.40,379.00 410.90,375.50 411.30,374.60 411.80,376.00 412.30,380.00 412.80,383.30" fill="#31688E" fill-opacity="0.55" stroke="none"/>
<polygon points="409.80,383.30 410.50,380.00 411.10,377.50 411.70,379.00 412.40,383.30" fill="#440154" fill-opacity="0.55" stroke="none"/>
<polygon points="408.60,383.30 409.50,381.50 410.60,380.60 411.50,381.50 412.30,383.30" fill="#FDE725" fill-opacity="0.6" stroke="none"/>
<polygon points="374.00,383.30 374.50,381.00 375.00,379.40 375.50,379.10 376.00,380.00 376.60,383.30" fill="#31688E" fill-opacity="0.55" stroke="none"/>
<polygon points="374.00,383.30 374.60,381.50 375.60,381.20 376.40,383.30" fill="#440154" fill-opacity="0.5" stroke="none"/>
<polygon points="379.30,383.30 380.20,381.80 381.00,381.20 381.80,381.80 382.60,383.30" fill="#31688E" fill-opacity="0.5" stroke="none"/>
<polygon points="393.80,383.30 395.50,381.60 397.00,381.00 398.50,381.60 400.20,383.30" fill="#440154" fill-opacity="0.45" stroke="none"/>
<polygon points="403.60,383.30 404.60,382.20 405.60,382.20 406.60,383.30" fill="#31688E" fill-opacity="0.45" stroke="none"/>
<polygon points="415.30,383.30 416.00,381.50 416.70,380.40 417.40,381.50 418.10,383.30" fill="#31688E" fill-opacity="0.5" stroke="none"/>
<polygon points="395.00,383.30 395.00,382.80 420.00,382.80 420.00,383.30" fill="#440154" fill-opacity="0.25" stroke="none"/>
<polygon points="439.80,383.30 440.80,381.80 441.80,381.80 442.60,383.30" fill="#440154" fill-opacity="0.4" stroke="none"/>
</svg></body></html>
